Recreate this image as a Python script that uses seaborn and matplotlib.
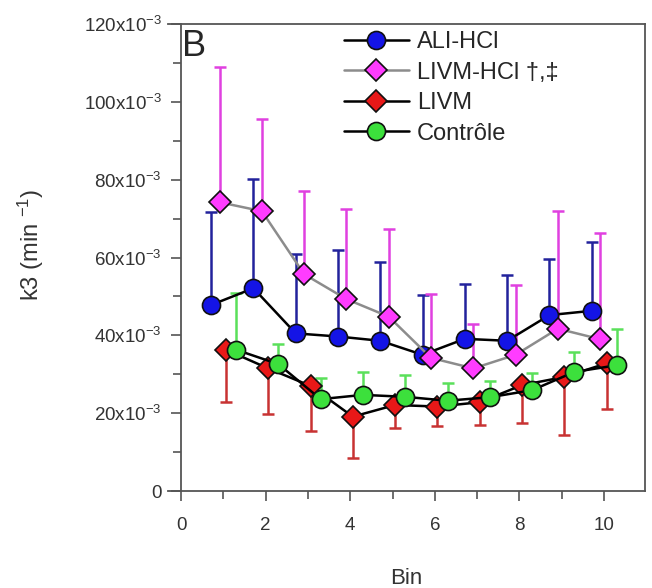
import numpy as np
import pandas as pd
import matplotlib
matplotlib.use("Agg")
import matplotlib.pyplot as plt
from matplotlib.lines import Line2D
from matplotlib.ticker import FixedLocator
import seaborn as sns

sns.set_style("ticks")
plt.rcParams['font.family'] = ['Liberation Sans', 'DejaVu Sans']
plt.rcParams['mathtext.fontset'] = 'custom'
plt.rcParams['mathtext.rm'] = 'Liberation Sans'
plt.rcParams['mathtext.it'] = 'Liberation Sans:italic'

# ---- data (values in units of 10^-3 min^-1) ----
bins = [1, 2, 3, 4, 5, 6, 7, 8, 9, 10]
ali_hcl = [47.8, 52.1, 40.5, 39.7, 38.6, 35.0, 39.1, 38.6, 45.2, 46.3]
ali_hcl_sd = [24.0, 28.0, 20.5, 22.2, 20.2, 15.4, 14.0, 16.9, 14.5, 17.8]
livm_hcl = [74.2, 71.9, 55.7, 49.3, 44.8, 34.2, 31.5, 35.0, 41.7, 39.0]
livm_hcl_sd = [34.8, 23.8, 21.4, 23.2, 22.5, 16.3, 11.3, 17.9, 30.2, 27.4]
livm = [36.3, 31.5, 27.0, 19.1, 22.1, 21.7, 22.8, 27.2, 29.3, 32.8]
livm_sd = [13.5, 11.7, 11.7, 10.6, 6.0, 4.9, 5.8, 9.8, 14.9, 11.8]
controle = [36.3, 32.6, 23.6, 24.7, 24.2, 23.2, 24.1, 25.9, 30.6, 32.3]
controle_sd = [14.5, 5.1, 5.5, 5.8, 5.6, 4.5, 4.1, 4.3, 5.1, 9.4]

labels = ["ALI-HCl", "LIVM-HCl \u2020,\u2021", "LIVM", "Contr\u00f4le"]
y_ticks = [0, 20, 40, 60, 80, 100, 120]
x_ticks = [0, 2, 4, 6, 8, 10]

series = [
    # label, values, sd, x offset, err direction, marker, face, line color, err color
    (labels[0], ali_hcl, ali_hcl_sd, -0.29, 'up', 'o', '#1414e6', 'black', '#22229c'),
    (labels[1], livm_hcl, livm_hcl_sd, -0.09, 'up', 'D', '#ff3cff', '#8c8c8c', '#e040e0'),
    (labels[2], livm, livm_sd, 0.06, 'down', 'D', '#e81818', 'black', '#c83232'),
    (labels[3], controle, controle_sd, 0.30, 'up', 'o', '#3ce03c', 'black', '#5ae05a'),
]

fig = plt.figure(figsize=(6.52, 5.88), dpi=100)
ax = fig.add_axes([168/652, 1-491/588, (645-168)/652, (491-24)/588])

handles = []
for i, (lab, vals, sd, off, d, mk, fc, lc, ec) in enumerate(series):
    df = pd.DataFrame({"Bin": np.array(bins) + off, "k3": vals})
    sd = np.array(sd)
    zero = np.zeros_like(sd)
    yerr = [zero, sd] if d == 'up' else [sd, zero]
    ax.errorbar(df["Bin"], df["k3"], yerr=yerr, fmt='none', ecolor=ec,
                elinewidth=1.8, capsize=4.5, capthick=1.8, zorder=2 + i * 0.1)
    ms = 13 if mk == 'o' else 11.5
    sns.lineplot(data=df, x="Bin", y="k3", ax=ax, color=lc, lw=1.8,
                 marker=mk, markersize=ms, markerfacecolor=fc,
                 markeredgecolor='#101010', markeredgewidth=1.2,
                 zorder=3 + i * 0.1, legend=False)
    handles.append(Line2D([0], [0], color=lc, lw=1.8, marker=mk, markersize=ms,
                          markerfacecolor=fc, markeredgecolor='#101010',
                          markeredgewidth=1.2, label=lab))

ax.set_xlim(-0.31, 10.97)
ax.set_ylim(0, 120)
ax.spines['left'].set_position(('data', 0))
for s in ax.spines.values():
    s.set_color('#555555')
    s.set_linewidth(1.3)

ax.xaxis.set_major_locator(FixedLocator(x_ticks))
ax.xaxis.set_minor_locator(FixedLocator([1, 3, 5, 7, 9]))
ax.yaxis.set_major_locator(FixedLocator(y_ticks))
ax.yaxis.set_minor_locator(FixedLocator([10, 30, 50, 70, 90, 110]))
ax.set_xticklabels([str(v) for v in x_ticks])
ax.set_yticklabels(["0" if v == 0 else f"{v}x10$^{{-3}}$" for v in y_ticks])
ax.tick_params(which='both', direction='out', color='#555555', width=1.2,
               labelsize=13.5, labelcolor='#333333')
ax.tick_params(which='major', length=7)
ax.tick_params(which='minor', length=6)
ax.tick_params(axis='x', which='major', pad=12)
ax.tick_params(axis='y', which='major', pad=7)

ax.set_xlabel("Bin", fontsize=16, color='#333333', labelpad=24)
ax.set_ylabel("k3 (min $^{-1}$)", fontsize=17, color='#333333')
ax.yaxis.set_label_coords(-0.256, 0.527)

ax.text(0.03, 0.99, "B", transform=ax.transAxes, fontsize=26, va='top', ha='left')

leg = ax.legend(handles=handles, loc='upper left', bbox_to_anchor=(344/652, 1-31/588),
                bbox_transform=fig.transFigure, frameon=False, fontsize=17,
                handlelength=2.75, handletextpad=0.35, labelspacing=0.36,
                borderpad=0, borderaxespad=0)

fig.savefig("out.png", dpi=100)
